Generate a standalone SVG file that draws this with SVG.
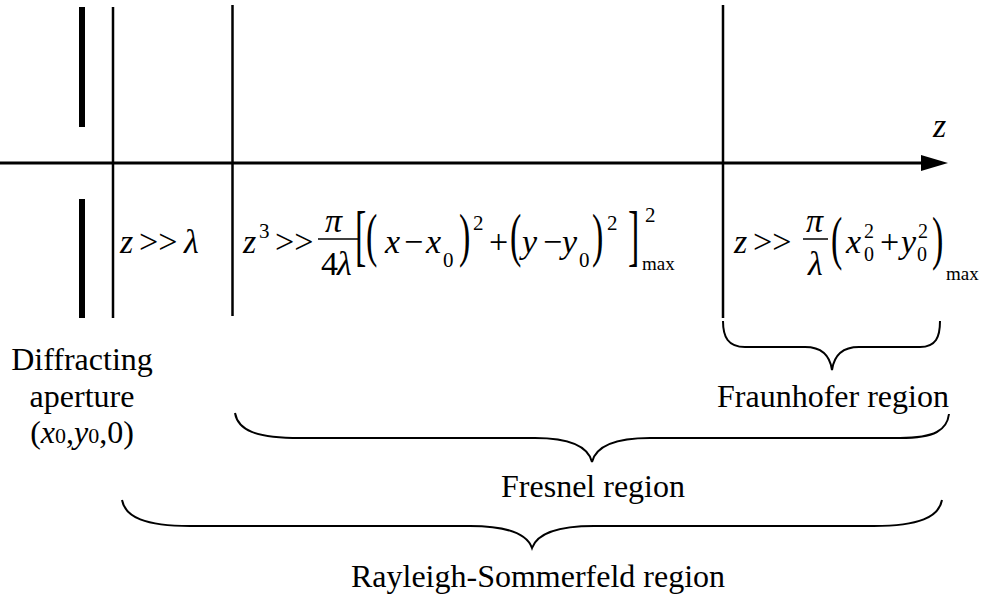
<svg xmlns="http://www.w3.org/2000/svg" width="981" height="596" viewBox="0 0 981 596">
<style>
text{font-family:"Liberation Serif","Times New Roman",serif;fill:#000}
.m{font-size:34px}
.g{font-size:34px}
.i{font-style:italic}
.s{font-size:21px}
.t{font-size:20px}
.mx{font-size:19px}
.lb{font-size:32px;text-anchor:middle}
.ln{stroke:#000;stroke-width:2.5;fill:none}
.br{stroke:#000;stroke-width:2;fill:none}
.fb{stroke:#000;stroke-width:1.5}
</style>
<rect width="981" height="596" fill="#fff"/>

<g id="aperture">
<rect x="79" y="7" width="6" height="120" fill="#000"/>
<rect x="79" y="199" width="6" height="119" fill="#000"/>
</g>

<g id="connectors">
<line x1="0" y1="163" x2="923" y2="163" stroke="#000" stroke-width="3"/>
<polygon points="921,155 948,163 921,171" fill="#000"/>
<line class="ln" x1="113" y1="7" x2="113" y2="318"/>
<line class="ln" x1="232.5" y1="5" x2="232.5" y2="316"/>
<line class="ln" x1="723" y1="5" x2="723" y2="318"/>
</g>

<g id="axis-label"><text class="m i" x="933" y="137">z</text></g>

<g id="cond-rs">
<text class="m i" x="120" y="253">z</text>
<text class="g" x="139" y="253">&gt;&gt;</text>
<text class="m i" x="184" y="253">λ</text>
</g>

<g id="cond-fresnel">
<text class="m i" x="243" y="253">z</text>
<text class="s" x="259" y="238">3</text>
<text class="g" x="275" y="253">&gt;&gt;</text>
<text class="m i" x="325" y="232">π</text>
<line class="fb" x1="318" y1="239" x2="358" y2="239"/>
<text class="m" x="321" y="275">4</text>
<text class="m i" x="337" y="275">λ</text>
<text font-size="34" transform="translate(355,257.5) scale(1,1.98)">[</text>
<text class="m" transform="translate(366,255) scale(1,1.72)">(</text>
<text class="m i" x="385" y="253">x</text>
<text class="m" x="404" y="253">−</text>
<text class="m i" x="426" y="253">x</text>
<text class="s" x="443" y="267">0</text>
<text class="m" transform="translate(459,255) scale(1,1.72)">)</text>
<text class="s" x="473" y="230">2</text>
<text class="m" x="489" y="253">+</text>
<text class="m" transform="translate(510,255) scale(1,1.72)">(</text>
<text class="m i" x="522" y="253">y</text>
<text class="m" x="543" y="253">−</text>
<text class="m i" x="562" y="253">y</text>
<text class="s" x="579" y="267">0</text>
<text class="m" transform="translate(592,255) scale(1,1.72)">)</text>
<text class="s" x="607" y="230">2</text>
<text font-size="34" transform="translate(628,257.5) scale(1,1.98)">]</text>
<text class="s" x="645" y="222">2</text>
<text class="mx" x="642" y="270">max</text>
</g>

<g id="cond-fraunhofer">
<text class="m i" x="734" y="253">z</text>
<text class="g" x="753" y="253">&gt;&gt;</text>
<text class="m i" x="806" y="232">π</text>
<line class="fb" x1="803" y1="239" x2="828" y2="239"/>
<text class="m i" x="808" y="275">λ</text>
<text class="m" transform="translate(831,258) scale(1,1.72)">(</text>
<text class="m i" x="846" y="253">x</text>
<text class="t" x="864" y="238">2</text>
<text class="t" x="864" y="261">0</text>
<text class="m" x="880" y="253">+</text>
<text class="m i" x="901" y="253">y</text>
<text class="t" x="918" y="238">2</text>
<text class="t" x="917" y="261">0</text>
<text class="m" transform="translate(932,258) scale(1,1.72)">)</text>
<text class="mx" x="946" y="280">max</text>
</g>

<g id="aperture-label">
<text class="lb" x="82" y="370">Diffracting</text>
<text class="lb" x="82" y="407">aperture</text>
<text class="lb" x="82" y="443">(<tspan class="i">x</tspan><tspan font-size="22">0</tspan>,<tspan class="i">y</tspan><tspan font-size="22">0</tspan>,0)</text>
</g>

<g id="fraunhofer-region">
<path class="br" d="M723,321 C723,337 728,347 745,347 L805,347 C822,347 830,356 832,370 C834,356 842,347 859,347 L920,347 C936,347 940,337 940,321"/>
<text class="lb" x="833" y="407">Fraunhofer region</text>
</g>

<g id="fresnel-region">
<path class="br" d="M235,413 C238,430 255,438 300,438 L535,438 C570,438 588,446 592,462 C596,446 614,438 650,438 L900,438 C935,438 947,430 949,414"/>
<text class="lb" x="593" y="497">Fresnel region</text>
</g>

<g id="rs-region">
<path class="br" d="M122,500 C125,517 145,526 190,526 L470,526 C508,526 527,534 532,548 C537,534 556,526 594,526 L874,526 C919,526 939,517 942,500"/>
<text class="lb" x="538" y="587">Rayleigh-Sommerfeld region</text>
</g>
</svg>
